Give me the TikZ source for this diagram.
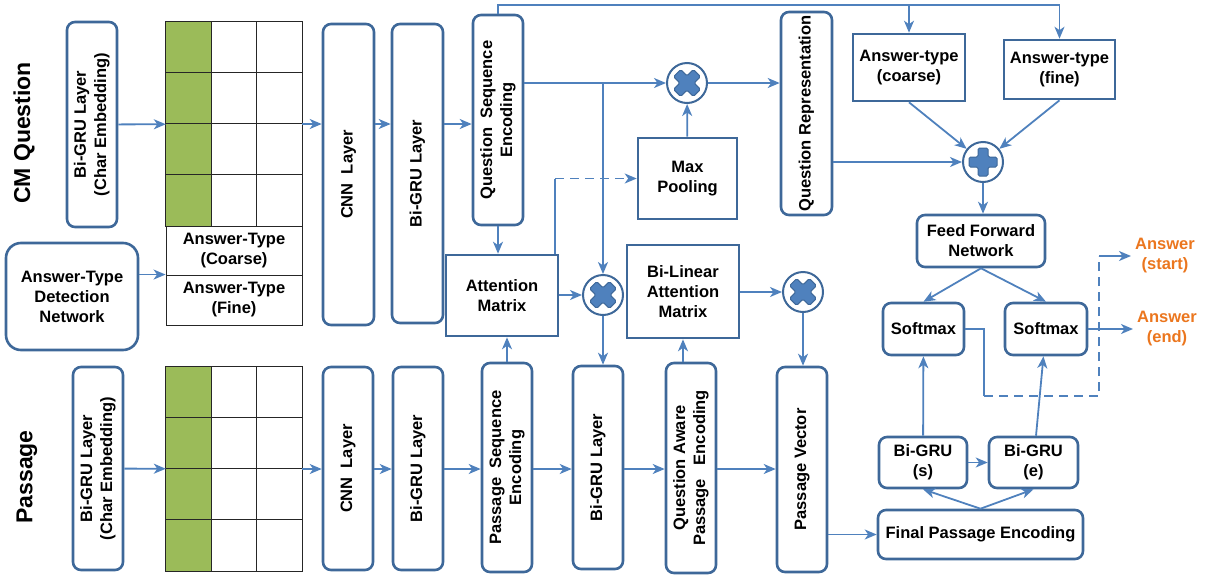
\documentclass[tikz,border=0pt]{standalone}
\usepackage{fontspec}
\setmainfont{Liberation Sans}
\usepackage{graphicx}
\usetikzlibrary{arrows.meta}
\definecolor{boxblue}{RGB}{62,104,153}
\definecolor{arrowblue}{RGB}{79,129,189}
\definecolor{gridgreen}{RGB}{155,187,89}
\definecolor{ansorange}{RGB}{235,118,30}
\newcommand{\vtext}[1]{\rotatebox{90}{\begin{tabular}{@{}c@{}}#1\end{tabular}}}

\begin{document}
\begin{tikzpicture}[x=1pt, y=-1pt, >={Stealth[length=12pt,width=10pt,inset=3.5pt]},
    every node/.style={font=\bfseries\fontsize{16.5}{20}\selectfont, inner sep=0pt},
    dims/.style 2 args={minimum width=#1, minimum height=#2},
    vlayer/.style={draw=boxblue, line width=2.6pt, rounded corners=8pt, fill=white},
    block/.style={draw=boxblue, line width=2.6pt, align=center},
    rblock/.style={block, rounded corners=8pt},
    cell/.style={draw=black!85, line width=0.9pt, align=center},
    cellline/.style={draw=black!85, line width=0.9pt},
    op/.style={circle, draw=boxblue, line width=2pt, fill=white, minimum size=40pt},
    opmark/.style={fill=arrowblue, draw=boxblue, line width=1pt, rounded corners=1.5pt},
    mulop/.style={op, path picture={\filldraw[opmark, shift={(path picture bounding box.center)}]
        (6.36,-13.44) -- (13.44,-6.36) -- (7.07,0) -- (13.44,6.36) -- (6.36,13.44) -- (0,7.07) -- (-6.36,13.44)
        -- (-13.44,6.36) -- (-7.07,0) -- (-13.44,-6.36) -- (-6.36,-13.44) -- (0,-7.07) -- cycle;}},
    addop/.style={op, path picture={\filldraw[opmark, shift={(path picture bounding box.center)}]
        (-5,-14) -- (5,-14) -- (5,-5) -- (14,-5) -- (14,5) -- (5,5) -- (5,14) -- (-5,14) -- (-5,5) -- (-14,5) -- (-14,-5) -- (-5,-5) -- cycle;}},
    sidelabel/.style={font=\bfseries\fontsize{23}{27}\selectfont, rotate=90},
    answer/.style={text=ansorange, align=center, inner sep=4pt},
    link/.style={->, draw=arrowblue, line width=1.8pt},
    wire/.style={draw=arrowblue, line width=1.8pt},
    dashline/.style={dash pattern=on 9pt off 6pt}]
    \useasboundingbox (0,0) rectangle (1211,576);

    % Side labels
    \node (cmq) [sidelabel] at (24,133) {CM Question};
    \node (psg) [sidelabel] at (27,477) {Passage};

    % Question encoder
    \node (qchar) [vlayer, dims={50}{205}] at (92,124.5) {\vtext{Bi-GRU Layer\\(Char Embedding)}};
    \node (qgrid) [dims={136}{204}] at (234,124) {};
    \node (qcoarse) [cell, dims={136}{49}] at (234,250.5) {Answer-Type\\(Coarse)};
    \node (qfine) [cell, dims={136}{50}] at (234,300) {Answer-Type\\(Fine)};
    \node (atd) [rblock, rounded corners=15pt, dims={132}{107}] at (72,296.5) {Answer-Type\\Detection\\Network};
    \node (qcnn) [vlayer, dims={51}{301}] at (348.5,174.5) {\vtext{CNN\ \ Layer}};
    \node (qbg) [vlayer, dims={51}{299}] at (417.5,173.5) {\vtext{Bi-GRU Layer}};
    \node (qse) [vlayer, dims={50}{210}] at (498,120) {\vtext{Question\ \ Sequence\\Encoding}};
    \node (attn) [block, dims={112}{81}] at (502,295.5) {Attention\\Matrix};
    \node (mulp) [mulop] at (603,295) {};
    \node (mulq) [mulop] at (687,83) {};
    \node (maxp) [block, dims={99}{81}] at (687.5,178.5) {Max\\Pooling};
    \node (qrep) [vlayer, dims={51}{203}] at (806.5,113.5) {\vtext{Question Representation}};
    \node (atcoarse) [block, dims={112}{67}] at (909,67.5) {Answer-type\\(coarse)};
    \node (atfine) [block, dims={111}{59}] at (1059.5,69.5) {Answer-type\\(fine)};
    \node (addq) [addop] at (983,162) {};

    % Answer decoder
    \node (ffn) [rblock, dims={128}{52}] at (981,241) {Feed Forward\\Network};
    \node (sm1) [rblock, dims={81}{52}] at (923.5,329) {Softmax};
    \node (sm2) [rblock, dims={82}{52}] at (1046,329) {Softmax};
    \node (ansstart) [answer] at (1165,256) {Answer\\(start)};
    \node (ansend) [answer] at (1167,329) {Answer\\(end)};
    \node (bgs) [rblock, dims={88}{51}] at (923,462.5) {Bi-GRU\\(s)};
    \node (bge) [rblock, dims={89}{51}] at (1033.5,462.5) {Bi-GRU\\(e)};
    \node (fpe) [rblock, dims={205}{49}] at (980.5,534.5) {Final Passage Encoding};

    % Passage encoder
    \node (pchar) [vlayer, dims={50}{203}] at (98,468.5) {\vtext{Bi-GRU Layer\\(Char Embedding)}};
    \node (pgrid) [dims={136}{204}] at (234,469) {};
    \node (pcnn) [vlayer, dims={50}{203}] at (348,468.5) {\vtext{CNN\ \ Layer}};
    \node (pbg) [vlayer, dims={50}{203}] at (418,468.5) {\vtext{Bi-GRU Layer}};
    \node (pse) [vlayer, dims={50}{209}] at (507,467.5) {\vtext{Passage\ \ Sequence\\Encoding}};
    \node (pbg2) [vlayer, dims={50}{203}] at (598,467.5) {\vtext{Bi-GRU Layer}};
    \node (qape) [vlayer, dims={50}{210}] at (691,468) {\vtext{Question Aware\\Passage\ \ \ Encoding}};
    \node (bilin) [block, dims={112}{93}] at (683,291.5) {Bi-Linear\\Attention\\Matrix};
    \node (mulv) [mulop] at (803,292) {};
    \node (pv) [vlayer, dims={50}{205}] at (802,469.5) {\vtext{Passage Vector}};

    % Embedding grids
    \foreach \g in {qgrid,pgrid} {
        \fill[gridgreen] (\g.north west) rectangle ([xshift=45.3pt]\g.south west);
        \foreach \i in {1,2}
            \draw[cellline] ([xshift=\i*45.33pt]\g.north west) -- ([xshift=\i*45.33pt]\g.south west);
        \foreach \j in {1,2,3}
            \draw[cellline] ([yshift=-\j*51pt]\g.north west) -- ([yshift=-\j*51pt]\g.north east);
        \draw[cellline] (\g.north west) rectangle (\g.south east);
    }

    % Arrows on the question side
    \draw[link] (qchar) -- (qgrid);
    \draw[link] (qgrid.east) -- (qcnn.west |- qgrid);
    \draw[link] (qcnn.east |- qgrid) -- (qbg.west |- qgrid);
    \draw[link] (qbg.east |- qgrid) -- (qse.west |- qgrid);
    \draw[link] (atd.east |- qfine.north) -- (qfine.north west);
    \draw[link] (qse.north) -- ++(0,-9) coordinate (qtop) -| (atfine.north);
    \draw[link] (atcoarse.north |- qtop) -- (atcoarse.north);
    \draw[link] (qse.east |- mulq) -- (mulq);
    \draw[link] (mulp |- mulq) -- (mulp);
    \draw[link] (qse.south) -- (qse.south |- attn.north);
    \draw[wire] ([xshift=-4pt]attn.north east) -- ([xshift=-4pt]attn.north east |- maxp) coordinate (dsh);
    \draw[link, dashline] (dsh) -- (maxp.west);
    \draw[link] (maxp) -- (mulq);
    \draw[link] (mulq) -- (qrep.west |- mulq);
    \draw[link] (qrep.east |- addq) -- (addq);
    \draw[link] (atcoarse.south) -- (addq);
    \draw[link] (atfine.south) -- (addq);
    \draw[link] (addq) -- (addq |- ffn.north);
    \draw[link] (attn.east |- mulp) -- (mulp);

    % Arrows on the passage side
    \draw[link] (pchar) -- (pgrid);
    \draw[link] (pgrid.east) -- (pcnn.west |- pgrid);
    \draw[link] (pcnn.east |- pgrid) -- (pbg.west |- pgrid);
    \draw[link] (pbg.east |- pgrid) -- (pse.west |- pgrid);
    \draw[link] (pse.east |- pgrid) -- (pbg2.west |- pgrid);
    \draw[link] (pbg2.east |- pgrid) -- (qape.west |- pgrid);
    \draw[link] (qape.east |- pgrid) -- (pv.west |- pgrid);
    \draw[link] (pse.north) -- (pse.north |- attn.south);
    \draw[link] (mulp) -- (mulp |- pbg2.north);
    \draw[link] (bilin.south |- qape.north) -- (bilin.south);
    \draw[link] (bilin.east |- mulv) -- (mulv);
    \draw[link] (mulv) -- (mulv |- pv.north);
    \draw[link] (pv.east |- fpe) -- (fpe.west);

    % Arrows in the decoder
    \draw[link] (ffn.south) -- (sm1.north);
    \draw[link] (ffn.south) -- (sm2.north);
    \draw[link] (fpe.north) -- (bgs.south);
    \draw[link] (fpe.north) -- (bge.south);
    \draw[link] (bgs) -- (bge);
    \draw[link] (bgs) -- (sm1);
    \draw[link] (bge) -- (sm2);
    \draw[link] (sm2) -- (ansend);
    \draw[wire] (sm1.east) -- ++(19,0) -- ++(0,67) coordinate (slow);
    \draw[wire, dashline] (slow) -- ++(115,0) coordinate (shigh) -- (shigh |- ansstart);
    \draw[link] (shigh |- ansstart) -- (ansstart);

\end{tikzpicture}
\end{document}
